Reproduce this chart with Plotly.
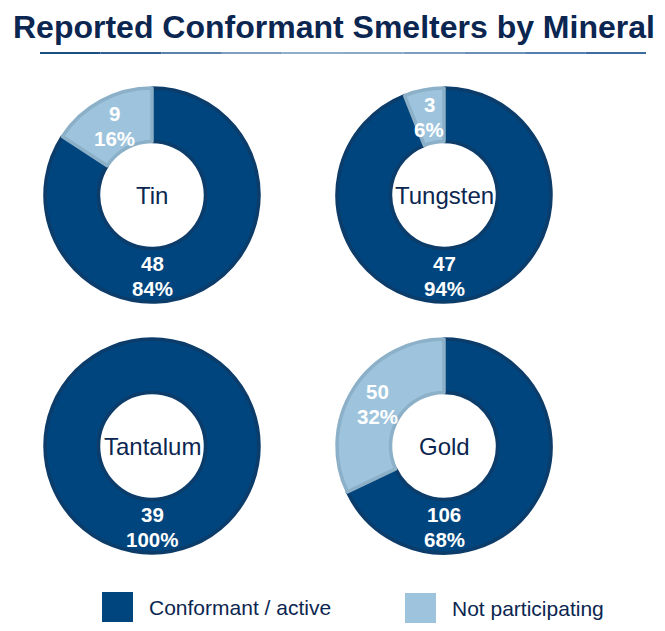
import math
import plotly.graph_objects as go

# ---- data ----
minerals = ["Tin", "Tungsten", "Tantalum", "Gold"]
categories = ["Conformant / active", "Not participating"]
conformant = [48, 47, 39, 106]
not_participating = [9, 3, 0, 50]

title_text = "Reported Conformant Smelters by Mineral"

# ---- style ----
W, H = 665, 631
DARK = "#01457E"
DARK_EDGE = "#0B3C6A"
LIGHT = "#9EC4DD"
LIGHT_EDGE = "#8BB0C8"
NAVY = "#0B2650"
FONT = "Liberation Sans, Arial, sans-serif"

centers = [(152, 195), (444, 195), (152, 446), (444, 446)]
R = 107
LBL = 20.5
GAP = 12.5


def px(x):
    return x / W


def py(y):
    return 1 - y / H


def ann(x, y, text, size, color, xanchor="center"):
    return dict(x=px(x), y=py(y), xref="paper", yref="paper", text=text,
                showarrow=False, xanchor=xanchor, yanchor="middle",
                font=dict(family=FONT, size=size, color=color))


def two_line(x, y, top, bottom):
    return [ann(x, y - GAP, f"<b>{top}</b>", LBL, "white"),
            ann(x, y + GAP, f"<b>{bottom}</b>", LBL, "white")]


fig = go.Figure()
annotations = []
shapes = []

for name, c, n, (cx, cy) in zip(minerals, conformant, not_participating, centers):
    fig.add_trace(go.Pie(
        labels=categories,
        values=[c, n],
        hole=0.5,
        sort=False,
        direction="clockwise",
        rotation=0,
        textinfo="none",
        hoverinfo="skip",
        marker=dict(colors=[DARK, LIGHT],
                    line=dict(color=[DARK_EDGE, LIGHT_EDGE],
                              width=[3.5, 3.5 if n > 0 else 0])),
        domain=dict(x=[px(cx - R), px(cx + R)], y=[py(cy + R), py(cy - R)]),
        showlegend=False,
    ))
    total = c + n
    annotations.append(ann(cx, cy, name, 24, NAVY))
    annotations += two_line(cx, cy + 81, c, f"{round(100 * c / total)}%")
    if n > 0:
        start = 360 * c / total
        mid = math.radians(start + 180 * n / total)
        r2 = 79
        lx = cx + r2 * math.sin(mid)
        ly = cy - r2 * math.cos(mid)
        annotations += two_line(lx, ly, n, f"{round(100 * n / total)}%")

# title
annotations.append(ann(334, 27, f"<b>{title_text}</b>", 32, NAVY))

# gradient underline
grad = ["#1B4F82", "#2F5F8E", "#5A82AA", "#7E9FBF", "#8FAECB", "#8AAAC8",
        "#7A9DC0", "#6A90B8", "#557FAE", "#3D6D9F"]
x0, x1, yl = 40, 646, 53
seg = (x1 - x0) / len(grad)
for i, col in enumerate(grad):
    shapes.append(dict(type="line", xref="paper", yref="paper",
                       x0=px(x0 + i * seg), x1=px(x0 + (i + 1) * seg),
                       y0=py(yl), y1=py(yl),
                       line=dict(color=col, width=2)))

# legend
leg = [(102, 592, DARK), (405, 593, LIGHT)]
for (lx, ly, col), cat in zip(leg, categories):
    shapes.append(dict(type="rect", xref="paper", yref="paper",
                       x0=px(lx), x1=px(lx + 31), y0=py(ly + 30), y1=py(ly),
                       fillcolor=col, line=dict(width=0)))
    annotations.append(ann(lx + 45, ly + 15, cat, 21, NAVY, xanchor="left"))

fig.update_layout(
    width=W, height=H,
    margin=dict(l=0, r=0, t=0, b=0),
    paper_bgcolor="white",
    plot_bgcolor="white",
    annotations=annotations,
    shapes=shapes,
    showlegend=False,
)

fig.write_html("out.html",
               config={"displayModeBar": False},
               post_script="document.body.style.margin='0';document.body.style.overflow='hidden';")
